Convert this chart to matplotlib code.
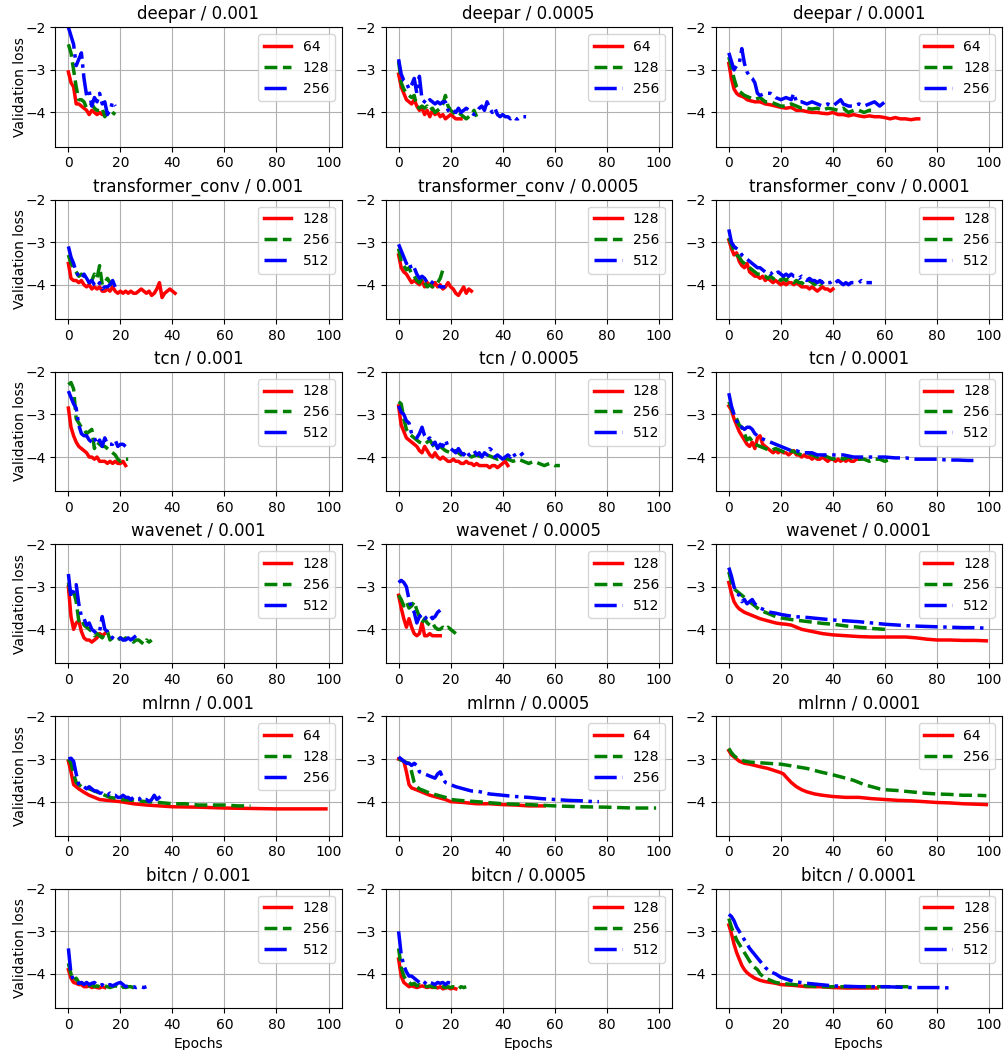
import matplotlib
matplotlib.use("Agg")
import matplotlib.pyplot as plt
import numpy as np

# ---- deepar ----
deepar_001_64 = [-3.05, -3.3, -3.4, -3.8, -3.8, -3.85, -3.9, -3.95, -4.05, -3.95, -4.0, -4.05, -4.0, -4.05, -4.05]
deepar_001_128 = [-2.4, -2.6, -3.0, -3.4, -3.7, -3.7, -3.75, -3.9, -3.85, -3.8, -3.9, -3.95, -3.95, -3.9, -4.1, -4.0, -3.95, -4.0, -4.05]
deepar_001_256 = [-2.0, -2.2, -2.4, -2.9, -2.75, -2.6, -3.2, -3.6, -3.5, -3.85, -3.65, -3.75, -3.55, -3.8, -3.75, -4.05, -3.95, -3.75, -3.85]

deepar_0005_64 = [-3.1, -3.4, -3.55, -3.7, -3.75, -3.8, -3.7, -3.85, -3.95, -3.9,
                  -4.05, -3.95, -4.1, -3.95, -4.05, -4.0, -4.1, -4.05, -4.15, -4.1,
                  -4.05, -4.1, -4.15, -4.15, -4.15]
deepar_0005_128 = [-2.8, -3.3, -3.45, -3.55, -3.6, -3.65, -3.6, -3.85, -3.9, -3.85,
                   -3.9, -3.85, -3.95, -3.9, -4.0, -3.95, -3.9, -3.8, -3.6, -3.85,
                   -3.95, -4.0, -4.05, -4.0, -4.05, -4.1, -4.15, -4.1, -4.05, -3.95, -4.1]
deepar_0005_256 = [-2.75, -3.1, -3.25, -3.3, -3.45, -3.35, -3.2, -3.55, -3.15, -3.7,
                   -3.75, -3.8, -3.7, -3.75, -3.8, -3.75, -3.8, -3.75, -3.75, -3.95,
                   -4.0, -3.95, -4.0, -3.9, -4.0, -3.95, -3.9, -3.95, -4.0, -4.05,
                   -4.0, -3.9, -3.85, -3.95, -3.75, -3.9, -4.0, -3.9, -4.05, -4.1,
                   -4.05, -4.1, -4.1, -4.15, -4.1, -4.15, -4.15, -4.1, -4.1, -4.1]

deepar_0001_64_x = [0, 1, 2, 3, 4, 5, 6, 7, 8, 10, 12, 14, 16, 18, 20, 22, 24, 26, 28, 30, 32, 34, 36, 38, 40,
                    42, 44, 46, 48, 50, 52, 54, 56, 58, 60, 62, 64, 66, 68, 70, 72, 73]
deepar_0001_64 = [-2.85, -3.2, -3.45, -3.55, -3.6, -3.62, -3.65, -3.7, -3.72, -3.75, -3.75, -3.8, -3.82, -3.85,
                  -3.88, -3.9, -3.88, -3.95, -3.95, -3.98, -4.0, -4.0, -4.02, -4.03, -4.0, -4.05, -4.05, -4.08,
                  -4.05, -4.08, -4.1, -4.08, -4.1, -4.1, -4.12, -4.15, -4.12, -4.15, -4.15, -4.17, -4.15, -4.15]
deepar_0001_128_x = [0, 1, 2, 3, 4, 5, 6, 8, 10, 12, 14, 16, 18, 20, 22, 24, 26, 28, 30, 32, 34, 36, 38, 40,
                     42, 44, 46, 48, 50, 52, 54, 55]
deepar_0001_128 = [-2.7, -2.95, -3.2, -3.4, -3.5, -3.55, -3.6, -3.65, -3.7, -3.65, -3.75, -3.75, -3.8, -3.85,
                   -3.85, -3.8, -3.85, -3.9, -3.9, -3.92, -3.9, -3.95, -3.9, -3.92, -3.95, -3.9, -4.0, -3.95,
                   -3.95, -4.0, -3.95, -3.95]
deepar_0001_256_x = [0, 1, 2, 3, 4, 5, 6, 7, 8, 9, 10, 11, 12, 14, 16, 18, 20, 22, 24, 25, 26, 28, 30, 32, 34,
                     36, 38, 40, 42, 43, 44, 46, 48, 50, 52, 54, 56, 58, 60, 61]
deepar_0001_256 = [-2.6, -2.8, -3.0, -2.9, -2.85, -2.5, -2.85, -3.05, -3.15, -3.2, -3.3, -3.55, -3.6,
                   -3.55, -3.55, -3.65, -3.7, -3.65, -3.7, -3.55, -3.75, -3.75, -3.8, -3.75, -3.8, -3.85,
                   -3.8, -3.85, -3.75, -3.7, -3.8, -3.85, -3.85, -3.8, -3.85, -3.8, -3.75, -3.85, -3.75, -3.8]

# ---- transformer_conv ----
tconv_001_128 = [-3.5, -3.85, -3.9, -3.9, -3.95, -3.9, -4.0, -4.05, -4.0, -4.1,
                 -4.05, -4.1, -4.05, -4.15, -4.15, -4.1, -4.15, -4.05, -4.15, -4.2,
                 -4.15, -4.2, -4.15, -4.2, -4.15, -4.2, -4.2, -4.15, -4.1, -4.15,
                 -4.2, -4.15, -4.25, -4.2, -4.1, -3.95, -4.3, -4.2, -4.15, -4.1, -4.15, -4.2]
tconv_001_256 = [-3.3, -3.5, -3.6, -3.7, -3.8, -3.75, -3.8, -3.85, -3.95, -3.9,
                 -3.75, -3.85, -3.55, -4.0, -3.95, -3.85, -3.95, -4.0]
tconv_001_512 = [-3.1, -3.35, -3.5, -3.7, -3.8, -3.85, -3.75, -3.85, -3.95, -3.9,
                 -4.0, -4.05, -3.95, -4.1, -4.05, -4.05, -4.0, -3.9, -4.05]

tconv_0005_128 = [-3.3, -3.6, -3.7, -3.75, -3.85, -3.95, -3.9, -3.95, -4.0, -3.9,
                  -4.05, -3.95, -4.0, -4.05, -3.95, -4.05, -4.0, -4.1, -4.05, -3.95,
                  -4.05, -4.1, -4.2, -4.25, -4.15, -4.05, -4.2, -4.1, -4.15]
tconv_0005_256 = [-3.15, -3.45, -3.55, -3.65, -3.6, -3.75, -3.8, -3.9, -3.95, -3.85,
                  -3.95, -4.05, -4.0, -4.05, -4.0, -3.95, -3.85, -3.65]
tconv_0005_512 = [-3.05, -3.2, -3.35, -3.5, -3.45, -3.65, -3.6, -3.75, -3.85, -3.8,
                  -3.85, -3.95, -3.9, -3.95, -4.0, -4.0, -4.05, -4.05, -4.05]

tconv_0001_128 = [-2.95, -3.15, -3.3, -3.25, -3.45, -3.55, -3.6, -3.5, -3.7, -3.75,
                  -3.8, -3.8, -3.85, -3.8, -3.9, -3.85, -3.9, -3.95, -3.9, -3.95,
                  -4.0, -3.95, -4.0, -3.95, -3.95, -4.0, -3.95, -4.0, -4.05, -4.05,
                  -4.05, -4.1, -4.05, -4.1, -4.15, -4.1, -4.05, -4.1, -4.1, -4.15, -4.1]
tconv_0001_256 = [-2.9, -3.05, -3.2, -3.3, -3.35, -3.45, -3.5, -3.55, -3.6, -3.65,
                  -3.7, -3.75, -3.75, -3.8, -3.8, -3.85, -3.8, -3.85, -3.9, -3.85,
                  -3.9, -3.85, -3.9, -3.85, -3.9, -3.95, -3.9, -3.95, -3.95, -4.0,
                  -3.95, -3.9, -3.95, -4.0, -3.9, -4.0, -3.95]
tconv_0001_512 = [-2.7, -3.0, -3.1, -3.15, -3.2, -3.3, -3.35, -3.4, -3.45, -3.5,
                  -3.55, -3.6, -3.6, -3.65, -3.7, -3.7, -3.75, -3.7, -3.75, -3.7,
                  -3.75, -3.8, -3.75, -3.8, -3.75, -3.8, -3.8, -3.85, -3.8, -3.85,
                  -3.9, -3.85, -3.9, -3.9, -3.95, -3.9, -3.95, -3.9, -3.95, -3.95,
                  -3.9, -3.95, -3.9, -3.95, -4.0, -3.95, -4.0, -3.95, -3.95, -3.95,
                  -3.95, -3.9, -3.95, -3.95, -3.95, -3.95]

# ---- tcn ----
tcn_001_128 = [-2.85, -3.3, -3.5, -3.65, -3.75, -3.8, -3.85, -3.9, -4.0, -4.0,
               -4.05, -4.0, -4.1, -4.1, -4.1, -4.15, -4.1, -4.15, -4.1, -4.15, -4.15, -4.1, -4.2]
tcn_001_256 = [-2.3, -2.25, -2.4, -3.1, -3.2, -3.3, -3.35, -3.45, -3.4, -3.35,
               -3.8, -3.65, -3.7, -3.75, -3.75, -3.8, -3.85, -3.9, -3.95, -4.05, -4.1, -4.05, -4.05, -4.05]
tcn_001_512 = [-2.45, -2.6, -2.75, -2.85, -3.25, -3.45, -3.5, -3.5, -3.6, -3.65,
               -3.55, -3.7, -3.6, -3.75, -3.55, -3.7, -3.7, -3.7, -3.6, -3.75, -3.7, -3.7, -3.75]

tcn_0005_128 = [-2.8, -3.25, -3.4, -3.55, -3.6, -3.65, -3.7, -3.75, -3.85, -3.9,
                -3.75, -3.85, -3.95, -4.0, -3.9, -4.0, -4.05, -4.0, -4.05, -4.1,
                -4.1, -4.05, -4.1, -4.1, -4.15, -4.15, -4.1, -4.15, -4.15, -4.2,
                -4.15, -4.2, -4.2, -4.2, -4.2, -4.25, -4.2, -4.2, -4.25, -4.2, -4.15, -4.1, -4.2]
tcn_0005_256_x = [0, 1, 2, 3, 4, 5, 6, 7, 8, 10, 12, 14, 16, 18, 20, 22, 24, 26, 28, 30, 32, 34, 36, 38,
                  40, 42, 44, 46, 48, 50, 52, 54, 56, 58, 60, 62]
tcn_0005_256 = [-2.7, -2.75, -3.1, -3.35, -3.45, -3.5, -3.55, -3.6, -3.65, -3.7, -3.6, -3.8, -3.75,
                -3.85, -3.9, -3.85, -3.95, -3.9, -4.0, -3.95, -4.0, -3.95, -4.0, -4.05, -4.0, -4.05,
                -4.1, -4.05, -4.1, -4.15, -4.1, -4.15, -4.2, -4.15, -4.2, -4.2]
tcn_0005_512 = [-2.8, -2.95, -3.0, -3.15, -3.2, -3.45, -3.5, -3.55, -3.45, -3.3,
                -3.5, -3.6, -3.55, -3.7, -3.65, -3.8, -3.7, -3.75, -3.6, -3.75,
                -3.8, -3.85, -3.9, -3.8, -3.9, -3.95, -3.85, -3.95, -3.9, -3.85,
                -3.95, -3.9, -4.0, -3.9, -3.95, -3.8, -3.85, -4.0, -3.95, -4.0,
                -4.05, -4.0, -3.95, -4.0, -3.9, -4.0, -4.0, -3.95, -3.9]

tcn_0001_128 = [-2.8, -2.9, -3.1, -3.25, -3.4, -3.5, -3.6, -3.7, -3.75, -3.65,
                -3.8, -3.55, -3.5, -3.7, -3.75, -3.8, -3.85, -3.9, -3.85, -3.9,
                -3.85, -3.9, -3.9, -3.95, -3.9, -3.85, -3.95, -3.95, -4.0, -3.95,
                -4.0, -4.0, -4.05, -4.0, -4.05, -4.05, -4.0, -4.05, -4.1, -4.05,
                -4.05, -4.1, -4.05, -4.1, -4.05, -4.1, -4.05, -4.1, -4.1, -4.05, -4.05]
tcn_0001_256_x = [0, 1, 2, 3, 4, 5, 6, 7, 8, 10, 12, 14, 16, 18, 20, 22, 24, 26, 28, 30, 32, 34, 36, 38,
                  40, 42, 44, 46, 48, 50, 52, 54, 56, 58, 60, 62]
tcn_0001_256 = [-2.7, -2.85, -3.0, -3.1, -3.25, -3.3, -3.45, -3.6, -3.55, -3.7, -3.75, -3.8, -3.85,
                -3.8, -3.85, -3.9, -3.85, -3.9, -3.95, -3.9, -3.95, -4.0, -3.95, -4.0, -4.05, -4.0,
                -4.05, -4.0, -4.05, -4.05, -4.05, -4.1, -4.05, -4.05, -4.1, -4.05]
tcn_0001_512_x = [0, 1, 2, 3, 4, 5, 6, 7, 8, 9, 10, 12, 14, 16, 18, 20, 22, 24, 26, 28, 30, 32, 34, 36,
                  38, 40, 44, 48, 52, 56, 60, 64, 68, 72, 76, 80, 84, 88, 92, 96]
tcn_0001_512 = [-2.5, -2.8, -3.0, -3.15, -3.3, -3.3, -3.35, -3.3, -3.3, -3.35, -3.45, -3.55, -3.6,
                -3.65, -3.7, -3.75, -3.8, -3.85, -3.85, -3.9, -3.9, -3.9, -3.95, -3.95, -3.95, -3.95,
                -3.95, -4.0, -4.0, -4.0, -4.0, -4.02, -4.02, -4.05, -4.05, -4.05, -4.07, -4.07, -4.08, -4.08]

# ---- wavenet ----
wavenet_001_128 = [-3.0, -3.7, -4.0, -3.85, -3.8, -4.05, -4.2, -4.25, -4.25, -4.3, -4.25, -4.2, -4.1, -4.15, -4.1]
wavenet_001_256 = [-2.9, -3.2, -3.1, -3.35, -3.8, -3.75, -3.9, -3.95, -4.0, -4.05,
                   -4.15, -4.1, -4.15, -4.2, -4.1, -4.05, -4.25, -4.2, -4.25, -4.25,
                   -4.2, -4.25, -4.2, -4.25, -4.25, -4.3, -4.25, -4.25, -4.3, -4.35, -4.25, -4.3, -4.25]
wavenet_001_512 = [-2.7, -3.25, -3.1, -2.95, -3.4, -3.7, -3.75, -3.9, -3.85, -4.0,
                   -4.05, -4.1, -4.05, -3.7, -4.0, -4.05, -4.15, -4.2, -4.25, -4.25,
                   -4.2, -4.25, -4.25, -4.2, -4.25, -4.2, -4.15]

wavenet_0005_128 = [-3.2, -3.5, -3.75, -3.95, -3.75, -3.95, -4.1, -4.15, -4.1, -3.85,
                    -4.15, -4.15, -4.1, -4.15, -4.15, -4.15, -4.15]
wavenet_0005_256 = [-3.2, -3.3, -3.45, -3.35, -3.5, -3.45, -3.35, -3.55, -3.7, -3.85,
                    -3.75, -3.85, -3.9, -3.85, -3.95, -4.0, -4.0, -3.95, -4.0, -3.95, -4.0, -4.05, -4.1]
wavenet_0005_512 = [-2.9, -2.85, -2.9, -3.0, -3.3, -3.5, -3.6, -3.85, -3.7, -3.65,
                    -3.75, -3.7, -3.65, -3.75, -3.7, -3.6, -3.55]

wavenet_0001_128_x = [0, 1, 2, 3, 4, 6, 8, 10, 12, 15, 18, 20, 22, 24, 26, 28, 32, 36, 40, 45, 50, 55,
                      60, 65, 68, 72, 76, 80, 85, 90, 95, 99]
wavenet_0001_128 = [-2.9, -3.15, -3.35, -3.45, -3.52, -3.6, -3.65, -3.7, -3.75, -3.8, -3.85, -3.87,
                    -3.88, -3.9, -3.95, -4.0, -4.05, -4.1, -4.13, -4.15, -4.17, -4.18, -4.18, -4.18,
                    -4.18, -4.2, -4.23, -4.25, -4.25, -4.26, -4.26, -4.27]
wavenet_0001_256_x = [0, 1, 2, 3, 4, 5, 6, 8, 10, 12, 14, 16, 18, 20, 24, 28, 32, 36, 40, 45, 50, 55, 60, 62]
wavenet_0001_256 = [-2.65, -2.9, -3.05, -3.1, -3.15, -3.2, -3.25, -3.35, -3.45, -3.55, -3.6, -3.65,
                    -3.7, -3.73, -3.77, -3.8, -3.83, -3.86, -3.88, -3.92, -3.95, -3.98, -4.0, -4.01]
wavenet_0001_512_x = [0, 1, 2, 3, 4, 5, 6, 7, 8, 9, 10, 11, 12, 14, 16, 18, 20, 25, 30, 35, 40, 45, 50,
                      55, 60, 65, 70, 75, 80, 85, 90, 95, 98]
wavenet_0001_512 = [-2.55, -2.75, -3.0, -3.15, -3.2, -3.35, -3.3, -3.4, -3.35, -3.3, -3.4, -3.45, -3.5,
                    -3.55, -3.6, -3.62, -3.65, -3.7, -3.72, -3.75, -3.78, -3.8, -3.82, -3.85, -3.88,
                    -3.9, -3.92, -3.93, -3.94, -3.95, -3.96, -3.96, -3.97]

# ---- mlrnn ----
mlrnn_001_64_x = [0, 1, 2, 3, 4, 6, 8, 10, 12, 15, 20, 25, 30, 35, 40, 50, 60, 70, 80, 90, 99]
mlrnn_001_64 = [-3.05, -3.3, -3.6, -3.65, -3.7, -3.78, -3.85, -3.9, -3.95, -3.97, -4.0, -4.05, -4.08,
                -4.1, -4.12, -4.13, -4.15, -4.16, -4.17, -4.17, -4.17]
mlrnn_001_128_x = [0, 1, 2, 3, 4, 5, 6, 8, 10, 12, 14, 16, 18, 20, 25, 30, 35, 40, 45, 50, 55, 60, 65, 70]
mlrnn_001_128 = [-3.0, -3.1, -3.35, -3.55, -3.6, -3.65, -3.65, -3.7, -3.75, -3.8, -3.85, -3.9, -3.92,
                 -3.95, -3.97, -4.0, -4.02, -4.05, -4.05, -4.08, -4.08, -4.08, -4.1, -4.1]
mlrnn_001_256 = [-3.0, -2.98, -3.05, -3.35, -3.6, -3.65, -3.65, -3.7, -3.65, -3.7,
                 -3.75, -3.75, -3.8, -3.8, -3.85, -3.85, -3.8, -3.85, -3.85, -3.9,
                 -3.9, -3.85, -3.9, -3.9, -3.95, -3.9, -3.95, -3.95, -3.9, -3.95,
                 -3.95, -4.0, -3.95, -3.85, -3.95, -3.9, -3.85, -3.85]

mlrnn_0005_64_x = [0, 1, 2, 3, 4, 5, 6, 8, 10, 12, 15, 18, 20, 25, 30, 35, 40, 45, 50, 56]
mlrnn_0005_64 = [-3.0, -3.02, -3.05, -3.3, -3.6, -3.68, -3.7, -3.75, -3.8, -3.85, -3.9, -3.95, -4.0,
                 -4.02, -4.05, -4.05, -4.07, -4.08, -4.1, -4.1]
mlrnn_0005_128_x = [0, 1, 2, 3, 4, 5, 6, 7, 8, 10, 12, 15, 18, 20, 25, 30, 40, 50, 60, 70, 80, 90, 99]
mlrnn_0005_128 = [-3.0, -3.02, -3.05, -3.08, -3.1, -3.3, -3.55, -3.65, -3.7, -3.75, -3.8, -3.85, -3.9,
                  -3.95, -3.98, -4.0, -4.05, -4.07, -4.1, -4.12, -4.13, -4.15, -4.15]
mlrnn_0005_256_x = [0, 1, 2, 3, 4, 5, 6, 7, 8, 10, 12, 14, 15, 16, 17, 18, 20, 22, 25, 28, 30, 35, 40,
                    45, 50, 55, 60, 65, 70, 75, 77]
mlrnn_0005_256 = [-2.95, -3.0, -3.05, -3.1, -3.1, -3.15, -3.1, -3.15, -3.3, -3.35, -3.4, -3.45, -3.35,
                  -3.3, -3.45, -3.55, -3.6, -3.65, -3.7, -3.75, -3.75, -3.82, -3.85, -3.88, -3.9, -3.93,
                  -3.95, -3.97, -3.98, -4.0, -4.0]

mlrnn_0001_64_x = [0, 1, 2, 3, 4, 6, 8, 10, 12, 15, 18, 20, 21, 22, 24, 26, 28, 30, 33, 36, 40, 45, 50,
                   55, 60, 65, 70, 75, 80, 85, 90, 95, 99]
mlrnn_0001_64 = [-2.8, -2.9, -2.95, -3.0, -3.05, -3.1, -3.12, -3.15, -3.18, -3.22, -3.28, -3.32, -3.35,
                 -3.42, -3.55, -3.65, -3.72, -3.77, -3.82, -3.85, -3.88, -3.9, -3.9, -3.93, -3.95, -3.97,
                 -3.98, -4.0, -4.02, -4.03, -4.05, -4.06, -4.07]
mlrnn_0001_256_x = [0, 1, 2, 3, 4, 6, 8, 10, 15, 20, 25, 30, 35, 40, 45, 48, 50, 52, 55, 58, 60, 65, 70,
                    75, 80, 85, 90, 95, 99]
mlrnn_0001_256 = [-2.75, -2.85, -2.92, -2.97, -3.0, -3.05, -3.07, -3.08, -3.1, -3.12, -3.17, -3.22, -3.3,
                  -3.37, -3.45, -3.5, -3.55, -3.6, -3.65, -3.7, -3.72, -3.74, -3.77, -3.8, -3.82, -3.83,
                  -3.85, -3.85, -3.86]

# ---- bitcn ----
bitcn_001_128 = [-3.9, -4.1, -4.2, -4.22, -4.25, -4.25, -4.3, -4.3, -4.28, -4.32, -4.3, -4.32, -4.33, -4.3, -4.32]
bitcn_001_256 = [-3.75, -4.0, -4.15, -4.1, -4.2, -4.22, -4.2, -4.25, -4.28, -4.25,
                 -4.3, -4.28, -4.3, -4.3, -4.28, -4.3, -4.32, -4.3, -4.28, -4.3,
                 -4.35, -4.3, -4.32, -4.3, -4.3, -4.32, -4.3]
bitcn_001_512 = [-3.4, -4.0, -4.15, -4.2, -4.22, -4.2, -4.25, -4.2, -4.25, -4.22,
                 -4.2, -4.25, -4.28, -4.25, -4.3, -4.28, -4.25, -4.28, -4.25, -4.22,
                 -4.2, -4.25, -4.3, -4.28, -4.3, -4.3, -4.32, -4.3, -4.3, -4.32, -4.3]

bitcn_0005_128 = [-3.65, -4.05, -4.2, -4.25, -4.3, -4.28, -4.3, -4.32, -4.3, -4.28,
                  -4.3, -4.32, -4.3, -4.32, -4.3, -4.33, -4.3, -4.35, -4.33, -4.32, -4.35, -4.33, -4.35]
bitcn_0005_256 = [-3.4, -3.85, -4.05, -4.15, -4.2, -4.25, -4.22, -4.28, -4.25, -4.3,
                  -4.28, -4.3, -4.28, -4.3, -4.32, -4.3, -4.28, -4.3, -4.32, -4.3,
                  -4.32, -4.3, -4.32, -4.35, -4.3, -4.32, -4.3]
bitcn_0005_512 = [-3.0, -3.55, -3.8, -3.95, -4.05, -4.05, -4.1, -4.15, -4.2, -4.15,
                  -4.2, -4.25, -4.2, -4.22, -4.25, -4.2, -4.22, -4.2, -4.25, -4.2, -4.22, -4.2]

bitcn_0001_128_x = [0, 1, 2, 3, 4, 5, 6, 7, 8, 10, 12, 14, 16, 18, 20, 25, 30, 35, 40, 45, 50, 57]
bitcn_0001_128 = [-2.85, -3.05, -3.3, -3.5, -3.65, -3.8, -3.9, -3.97, -4.02, -4.1, -4.15, -4.18, -4.2,
                  -4.22, -4.25, -4.27, -4.3, -4.3, -4.32, -4.33, -4.33, -4.33]
bitcn_0001_256_x = [0, 1, 2, 3, 4, 5, 6, 7, 8, 9, 10, 11, 12, 14, 16, 18, 20, 25, 30, 35, 40, 50, 60, 70]
bitcn_0001_256 = [-2.7, -2.9, -3.05, -3.2, -3.3, -3.4, -3.5, -3.6, -3.7, -3.8, -3.85, -3.9, -4.0, -4.1,
                  -4.15, -4.2, -4.22, -4.25, -4.28, -4.3, -4.3, -4.3, -4.3, -4.3]
bitcn_0001_512_x = [0, 1, 2, 3, 4, 5, 6, 8, 10, 12, 14, 16, 18, 20, 22, 25, 30, 35, 40, 50, 60, 70, 80, 86]
bitcn_0001_512 = [-2.6, -2.65, -2.75, -2.9, -3.0, -3.1, -3.2, -3.4, -3.55, -3.7, -3.85, -3.95, -4.0,
                  -4.08, -4.12, -4.18, -4.22, -4.25, -4.28, -4.3, -4.3, -4.32, -4.32, -4.33]

# panel table: (title, [(label, x or None, y), ...])
panels = [
    ("deepar / 0.001", [("64", None, deepar_001_64), ("128", None, deepar_001_128), ("256", None, deepar_001_256)]),
    ("deepar / 0.0005", [("64", None, deepar_0005_64), ("128", None, deepar_0005_128), ("256", None, deepar_0005_256)]),
    ("deepar / 0.0001", [("64", deepar_0001_64_x, deepar_0001_64), ("128", deepar_0001_128_x, deepar_0001_128),
                         ("256", deepar_0001_256_x, deepar_0001_256)]),
    ("transformer_conv / 0.001", [("128", None, tconv_001_128), ("256", None, tconv_001_256), ("512", None, tconv_001_512)]),
    ("transformer_conv / 0.0005", [("128", None, tconv_0005_128), ("256", None, tconv_0005_256), ("512", None, tconv_0005_512)]),
    ("transformer_conv / 0.0001", [("128", None, tconv_0001_128), ("256", None, tconv_0001_256), ("512", None, tconv_0001_512)]),
    ("tcn / 0.001", [("128", None, tcn_001_128), ("256", None, tcn_001_256), ("512", None, tcn_001_512)]),
    ("tcn / 0.0005", [("128", None, tcn_0005_128), ("256", tcn_0005_256_x, tcn_0005_256), ("512", None, tcn_0005_512)]),
    ("tcn / 0.0001", [("128", None, tcn_0001_128), ("256", tcn_0001_256_x, tcn_0001_256),
                      ("512", tcn_0001_512_x, tcn_0001_512)]),
    ("wavenet / 0.001", [("128", None, wavenet_001_128), ("256", None, wavenet_001_256), ("512", None, wavenet_001_512)]),
    ("wavenet / 0.0005", [("128", None, wavenet_0005_128), ("256", None, wavenet_0005_256), ("512", None, wavenet_0005_512)]),
    ("wavenet / 0.0001", [("128", wavenet_0001_128_x, wavenet_0001_128), ("256", wavenet_0001_256_x, wavenet_0001_256),
                          ("512", wavenet_0001_512_x, wavenet_0001_512)]),
    ("mlrnn / 0.001", [("64", mlrnn_001_64_x, mlrnn_001_64), ("128", mlrnn_001_128_x, mlrnn_001_128),
                       ("256", None, mlrnn_001_256)]),
    ("mlrnn / 0.0005", [("64", mlrnn_0005_64_x, mlrnn_0005_64), ("128", mlrnn_0005_128_x, mlrnn_0005_128),
                        ("256", mlrnn_0005_256_x, mlrnn_0005_256)]),
    ("mlrnn / 0.0001", [("64", mlrnn_0001_64_x, mlrnn_0001_64), ("256", mlrnn_0001_256_x, mlrnn_0001_256)]),
    ("bitcn / 0.001", [("128", None, bitcn_001_128), ("256", None, bitcn_001_256), ("512", None, bitcn_001_512)]),
    ("bitcn / 0.0005", [("128", None, bitcn_0005_128), ("256", None, bitcn_0005_256), ("512", None, bitcn_0005_512)]),
    ("bitcn / 0.0001", [("128", bitcn_0001_128_x, bitcn_0001_128), ("256", bitcn_0001_256_x, bitcn_0001_256),
                        ("512", bitcn_0001_512_x, bitcn_0001_512)]),
]

styles = [("r", "-"), ("g", "--"), ("b", "-.")]

fig, axes = plt.subplots(6, 3, figsize=(10.07, 10.5), dpi=100)

for i, (title, series) in enumerate(panels):
    ax = axes[i // 3, i % 3]
    for k, (label, xs, ys) in enumerate(series):
        if xs is None:
            xs = np.arange(len(ys))
        c, ls = styles[k]
        ax.plot(xs, ys, color=c, linestyle=ls, linewidth=2.5, label=label)
    ax.set_title(title, fontsize=12)
    ax.set_xlim(-5, 105)
    ax.set_ylim(-4.8, -2)
    ax.set_xticks([0, 20, 40, 60, 80, 100])
    ax.set_yticks([-4, -3, -2])
    ax.grid(True, color="#b0b0b0", linewidth=0.8)
    ax.legend(loc="upper right", fontsize=10)
    if i % 3 == 0:
        ax.set_ylabel("Validation loss", labelpad=-1)
    if i // 3 == 5:
        ax.set_xlabel("Epochs")

plt.subplots_adjust(left=0.055, right=0.995, top=0.974, bottom=0.04, wspace=0.154, hspace=0.445)
plt.savefig("out.png", dpi=100)
